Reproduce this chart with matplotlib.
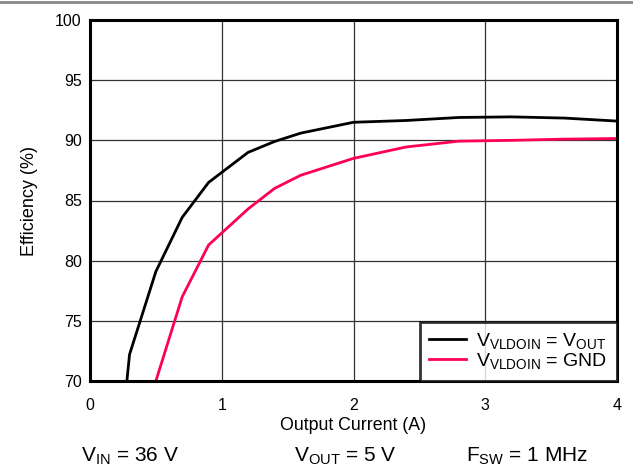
import matplotlib
matplotlib.use("Agg")
import matplotlib.pyplot as plt
from matplotlib.lines import Line2D

plt.rcParams["font.family"] = ["Liberation Sans", "DejaVu Sans"]
plt.rcParams["mathtext.fontset"] = "custom"
plt.rcParams["mathtext.rm"] = "Liberation Sans"

# Efficiency vs output current, VLDOIN = VOUT
i_vout   = [0.28, 0.30, 0.50, 0.70, 0.90, 1.20, 1.40, 1.60, 2.00, 2.40, 2.80, 3.20, 3.60, 4.00]
eff_vout = [70.0, 72.2, 79.1, 83.6, 86.5, 89.0, 89.9, 90.6, 91.5, 91.65, 91.9, 91.95, 91.85, 91.6]

# Efficiency vs output current, VLDOIN = GND
i_gnd   = [0.50, 0.70, 0.90, 1.20, 1.40, 1.60, 2.00, 2.40, 2.80, 3.20, 3.60, 4.00]
eff_gnd = [70.0, 77.0, 81.3, 84.3, 86.0, 87.1, 88.5, 89.45, 89.93, 90.0, 90.1, 90.15]

x_ticks = [0, 1, 2, 3, 4]
y_ticks = [70, 75, 80, 85, 90, 95, 100]

W, H = 633, 475
fig = plt.figure(figsize=(W / 100, H / 100), dpi=100)
ax = fig.add_axes([90 / W, 1 - 381 / H, 527 / W, 361 / H])

ax.plot(i_vout, eff_vout, color="black", linewidth=2,
        label=r"$\mathregular{V_{VLDOIN}}$ = $\mathregular{V_{OUT}}$")
ax.plot(i_gnd, eff_gnd, color="#ff0055", linewidth=2,
        label=r"$\mathregular{V_{VLDOIN}}$ = GND")

ax.set_xlim(0, 4)
ax.set_ylim(70, 100)
ax.set_xticks(x_ticks)
ax.set_yticks(y_ticks)
ax.grid(True, color="#333333", linewidth=0.9)
ax.tick_params(axis="x", length=0, labelsize=11.5, pad=12)
ax.tick_params(axis="y", length=0, labelsize=11.5, pad=6)
for s in ax.spines.values():
    s.set_linewidth(2.2)
ax.set_xlabel("Output Current (A)", fontsize=12.8, labelpad=3)
ax.set_ylabel("Efficiency (%)", fontsize=13, labelpad=12)

leg = ax.legend(loc="lower right", fontsize=14, frameon=True, fancybox=False,
                borderaxespad=0, handlelength=1.9, handletextpad=0.5,
                borderpad=0.5, labelspacing=0.0)
leg.get_frame().set_edgecolor("black")
leg.get_frame().set_linewidth(2)

y_txt = 1 - 456 / H
fig.text(130 / W, y_txt, r"$\mathregular{V_{IN}}$ = 36 V", fontsize=15, ha="center", va="center")
fig.text(345 / W, y_txt, r"$\mathregular{V_{OUT}}$ = 5 V", fontsize=15, ha="center", va="center")
fig.text(527 / W, y_txt, r"$\mathregular{F_{SW}}$ = 1 MHz", fontsize=15, ha="center", va="center")

fig.add_artist(Line2D([0, 1], [1 - 1.5 / H, 1 - 1.5 / H], color="#888888", linewidth=2))

fig.savefig("out.png", dpi=100)
